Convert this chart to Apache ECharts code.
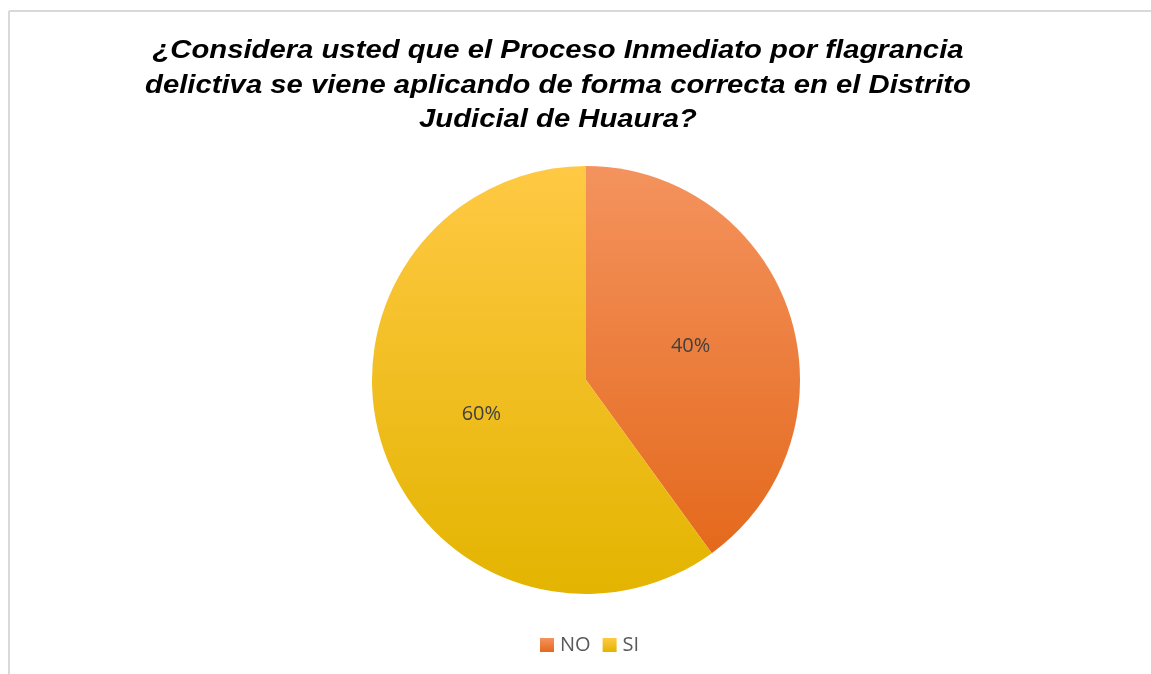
<!DOCTYPE html>
<html>
<head>
<meta charset="utf-8">
<script src="https://cdn.jsdelivr.net/npm/echarts@6/dist/echarts.min.js"></script>
<style>
  html, body { margin: 0; padding: 0; background: #fff; }
  #chart { width: 1151px; height: 674px; }
</style>
</head>
<body>
<div id="chart"></div>
<script>
// datos
const titulo = '¿Considera usted que el Proceso Inmediato por flagrancia\ndelictiva se viene aplicando de forma correcta en el Distrito\nJudicial de Huaura?';
const categorias = ["NO", "SI"];
const valores = [40, 60];
const colores = [
    ["#f4935e", "#e4691c"],
    ["#ffc944", "#e3b400"]
];

(function () {
    let myChart = echarts.init(document.getElementById('chart'));
    let datos = categorias.map(function (c, i) {
        return {
            name: c,
            value: valores[i],
            itemStyle: {
                color: new echarts.graphic.LinearGradient(0, 0, 0, 1, [
                    { offset: 0, color: colores[i][0] },
                    { offset: 1, color: colores[i][1] }
                ])
            }
        };
    });
    let option = {
        backgroundColor: '#fff',
        animation: false,
        legend: {
            bottom: 14,
            left: 535,
            itemWidth: 14,
            itemHeight: 14,
            itemGap: 12,
            icon: 'rect',
            data: categorias,
            textStyle: {
                fontFamily: 'Open Sans',
                fontSize: 20,
                color: '#595959',
                padding: [0, 0, 0, 1]
            }
        },
        graphic: [
            { type: 'line', shape: { x1: 9, y1: 11, x2: 1151, y2: 11 }, style: { stroke: '#d9d9d9', lineWidth: 2 } },
            { type: 'line', shape: { x1: 9, y1: 11, x2: 9, y2: 674 }, style: { stroke: '#d9d9d9', lineWidth: 2 } },
            // título (ensanchado como en la imagen original)
            {
                type: 'text',
                x: 558,
                y: 34,
                scaleX: 1.125,
                style: {
                    text: titulo,
                    font: 'italic bold 26px "Liberation Sans"',
                    fill: '#000',
                    align: 'center',
                    verticalAlign: 'top',
                    lineHeight: 34.5
                }
            }
        ],
        series: [{
            type: 'pie',
            center: [586, 380],
            radius: [0, 214],
            startAngle: 90,
            clockwise: true,
            label: {
                show: true,
                position: 'inside',
                formatter: '{d}%',
                fontFamily: 'Open Sans',
                fontSize: 20,
                color: '#404040'
            },
            labelLine: { show: false },
            itemStyle: { borderWidth: 0 },
            emphasis: { disabled: true },
            data: datos
        }]
    };
    myChart.setOption(option);
    window.addEventListener("resize", function () {
        myChart.resize();
    });
})();
</script>
</body>
</html>
